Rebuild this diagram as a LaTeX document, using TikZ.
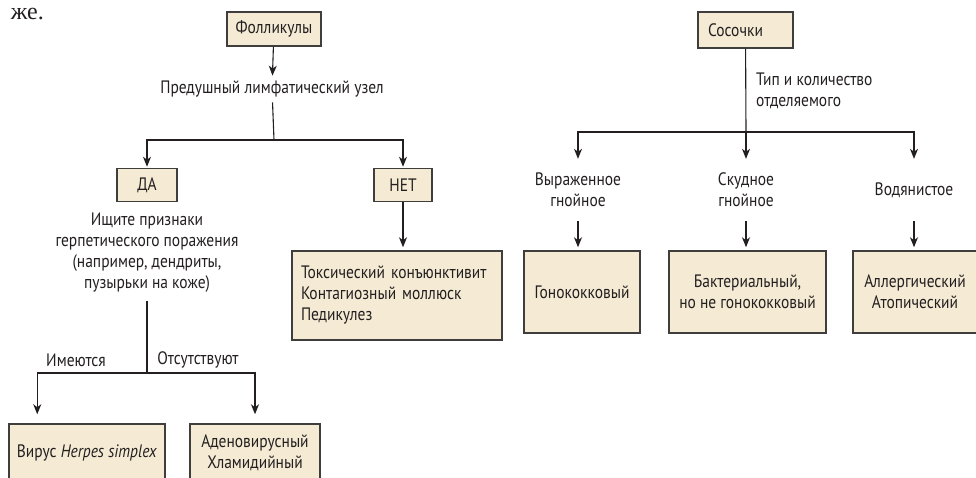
\documentclass[tikz,border=0pt]{standalone}
\usepackage{fontspec}
\setmainfont{PT Sans}[FakeStretch=0.86]
\newfontfamily\pageserif{Liberation Serif}
\usetikzlibrary{arrows.meta,positioning,calc}
\definecolor{boxfill}{RGB}{245,235,212}
\definecolor{boxline}{RGB}{64,62,60}
\definecolor{ink}{RGB}{35,31,32}
\tikzset{
	box/.style={draw=boxline,fill=boxfill,line width=1.5pt,inner sep=0pt,align=center},
	lbl/.style={align=center,inner sep=0pt},
	arr/.style={-{Stealth[length=10pt,width=8pt,inset=3pt]},line width=1.1pt},
	ln/.style={line width=1.1pt}
}

\begin{document}
\begin{tikzpicture}[x=1pt,y=-1pt,font=\fontsize{18}{21}\selectfont,color=ink]
	\useasboundingbox (0,0) rectangle (976,477);
	\node[anchor=base east,inner sep=0pt,font=\pageserif\fontsize{24}{24}\selectfont] (pagetext) at (44,19) {же.};
	% left tree
	\node[box,minimum width=94,minimum height=34] (foll) at (274,29) {Фолликулы};
	\node[lbl] (preaur) at (272,89) {Предушный лимфатический узел};
	\coordinate (fork1) at (274,140);
	\node[box,minimum width=60,minimum height=33] (da) at (147,185) {ДА};
	\node[box,minimum width=58,minimum height=33] (net) at (403,185) {НЕТ};
	\node[lbl] (herp) at (147,253) {Ищите признаки\\герпетического поражения\\(например, дендриты,\\пузырьки на коже)};
	\coordinate (fork2) at (147,373);
	\node[lbl] (present) at (76,360) {Имеются};
	\node[lbl] (absent) at (198,360) {Отсутствуют};
	\node[box,minimum width=156,minimum height=58] (hsv) at (87,453) {Вирус \textit{Herpes simplex}};
	\node[box,minimum width=130,minimum height=58] (adeno) at (255,453) {Аденовирусный\\Хламидийный};
	\node[box,minimum width=210,minimum height=89,text width=192,align=left] (tox) at (397,295.5) {Токсический конъюнктивит\\Контагиозный моллюск\\Педикулез};
	\draw[arr,shorten >=5pt] (foll) -- (preaur);
	\draw[ln,shorten <=5pt] (preaur) -- (fork1);
	\draw[arr,shorten >=1pt] (fork1) -| (da);
	\draw[arr,shorten >=1pt] (fork1) -| (net);
	\draw[arr,shorten >=3pt] (net) -- (net.south |- tox.north);
	\draw[ln,shorten <=8pt] (herp) -- (fork2);
	\draw[arr,shorten >=9pt] (fork2) -| ([xshift=29pt]hsv.north west);
	\draw[arr,shorten >=9pt] (fork2) -| (adeno);
	% right tree
	\node[box,minimum width=95,minimum height=36,text width=75,align=left] (soc) at (745.5,30) {Сосочки};
	\node[lbl,anchor=west,align=left] (amount) at (756,91) {Тип и количество\\отделяемого};
	\coordinate (fork3) at (746,132);
	\node[lbl,minimum height=62] (heavy) at (578,190) {Выраженное\\гнойное};
	\node[lbl,minimum height=62] (scant) at (746,190) {Скудное\\гнойное};
	\node[lbl,minimum height=62] (watery) at (914,190) {Водянистое};
	\node[box,minimum width=116,minimum height=82] (gono) at (582,292) {Гонококковый};
	\node[box,minimum width=157,minimum height=82] (bact) at (747.5,292) {Бактериальный,\\но не гонококковый};
	\node[box,minimum width=124,minimum height=82] (allerg) at (915,292) {Аллергический\\Атопический};
	\draw[ln] (soc) -- (fork3);
	\draw[arr] (fork3) -| (heavy);
	\draw[arr] (fork3) -- (scant);
	\draw[arr] (fork3) -| (watery);
	\draw[arr,shorten >=3pt] (heavy) -- (heavy.south |- gono.north);
	\draw[arr,shorten >=3pt] (scant) -- (scant.south |- bact.north);
	\draw[arr,shorten >=3pt] (watery) -- (watery.south |- allerg.north);
\end{tikzpicture}
\end{document}
